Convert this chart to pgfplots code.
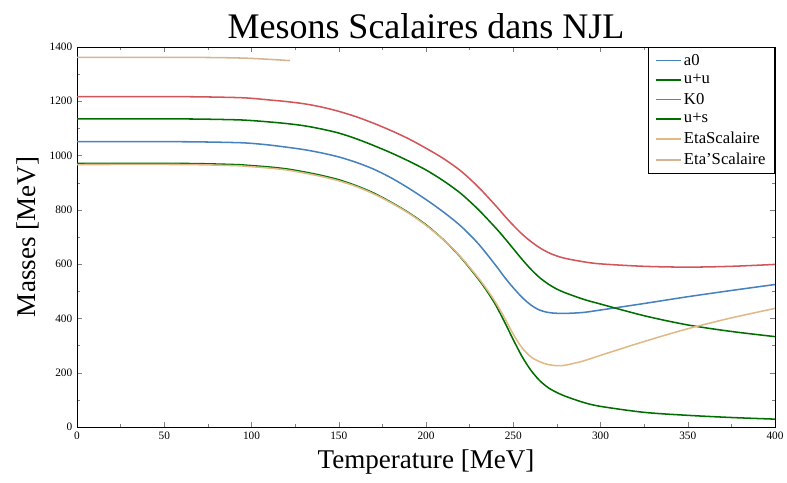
\documentclass[border=0pt]{standalone}
\usepackage{fontspec}
\setmainfont{Liberation Serif}
\usepackage{pgfplots}
\pgfplotsset{compat=1.18}
\definecolor{cblue}{RGB}{70,130,190}
\definecolor{cgreen}{RGB}{0,110,0}
\definecolor{cred}{RGB}{210,85,90}
\definecolor{ctan}{RGB}{225,185,135}
\definecolor{ctanb}{RGB}{215,180,145}
\begin{document}
\begin{tikzpicture}
\begin{axis}[
  scale only axis,
  width=523.5pt, height=285pt,
  xmin=0, xmax=400, ymin=0, ymax=1400,
  xtick={0,50,...,400}, ytick={0,200,...,1400},
  minor x tick num=1, minor y tick num=1,
  /pgf/number format/assume math mode=true,
  /pgf/number format/1000 sep={},
  tick label style={font=\fontsize{8.5}{10}\selectfont},
  major tick length=4pt, minor tick length=2.5pt,
  title={Mesons Scalaires dans NJL},
  title style={font=\fontsize{27}{30}\selectfont, at={(axis description cs:0.5,1.035)}, anchor=center},
  xlabel={Temperature [MeV]},
  xlabel style={font=\fontsize{20.3}{24}\selectfont, at={(axis description cs:0.5,-0.092)}, anchor=center},
  ylabel={Masses [MeV]},
  ylabel style={font=\fontsize{20.3}{24}\selectfont, at={(axis description cs:-0.070,0.5)}, anchor=center},
  legend style={at={(1,1)}, anchor=north east, draw=black, font=\fontsize{12.5}{14}\selectfont, cells={anchor=west}, row sep=1.5pt, inner xsep=5pt, inner ysep=3pt},
  legend image code/.code={\draw[mark repeat=2,mark phase=2,#1] plot coordinates {(0cm,0cm) (0.33cm,0cm) (0.66cm,0cm)};},
]
\addplot[cblue, line width=1.15pt, smooth] coordinates {
(0,1051) (60,1051) (90,1048) (100,1045) (110,1039) (120,1031) (130,1022) (140,1010) (150,995) (160,975) (170,950) (180,918) (190,880) (200,838) (210,792) (220,740) (230,675) (240,595) (245,552) (250,513) (255,478) (260,450) (265,431) (270,422) (275,419) (280,418.5) (290,422) (300,431) (325,455) (350,480) (375,503) (400,525)};
\addlegendentry{a0}
\addplot[cgreen, line width=1.15pt, smooth] coordinates {
(0,971) (60,971) (90,967) (100,963) (110,958) (120,951) (130,940) (140,927) (150,911) (160,889) (170,862) (180,828) (190,790) (200,745) (210,690) (220,624) (230,545) (235,500) (240,449) (245,387) (250,322) (255,260) (260,210) (265,172) (270,145) (275,127) (280,113) (290,91) (300,76) (325,54) (350,43) (375,35) (400,29)};
\addlegendentry{u+u}
\addplot[cred, line width=1.15pt, smooth] coordinates {
(0,1217) (60,1217) (90,1214) (100,1211) (110,1205) (120,1199) (130,1191) (140,1179) (150,1163) (160,1143) (170,1119) (180,1092) (190,1062) (200,1027) (210,989) (220,943) (230,884) (240,815) (245,778) (250,743) (255,711) (260,684) (265,661) (270,643) (275,630) (280,621) (290,609) (300,601) (325,592) (350,589) (375,592) (400,599)};
\addlegendentry{K0}
\addplot[cgreen, line width=1.15pt, smooth] coordinates {
(0,1135) (60,1135) (90,1132) (100,1129) (110,1124) (120,1118) (130,1110) (140,1098) (150,1083) (160,1062) (170,1037) (180,1010) (190,980) (200,947) (210,907) (220,860) (230,801) (240,733) (245,696) (250,657) (255,618) (260,582) (265,551) (270,527) (275,508) (280,494) (290,471) (300,453) (325,410) (350,376) (375,352) (400,333)};
\addlegendentry{u+s}
\addplot[ctan, line width=1.15pt, smooth] coordinates {
(0,967) (60,967) (90,963) (100,959) (110,954) (120,947) (130,936) (140,923) (150,907) (160,886) (170,859) (180,826) (190,788) (200,743) (210,690) (220,626) (230,549) (235,506) (240,458) (245,402) (250,342) (255,292) (260,259) (265,241) (270,230) (275,226) (280,228) (290,243) (300,264) (325,315) (350,362) (375,402) (400,437)};
\addlegendentry{EtaScalaire}
\addplot[ctanb, line width=1.15pt, smooth] coordinates {
(0,1362) (50,1362) (80,1361) (100,1358) (122,1350)};
\addlegendentry{Eta'Scalaire}
\end{axis}
\pgfresetboundingbox
\path ([shift={(-57.75pt,-41.25pt)}]current axis.south west) rectangle ([shift={(9pt,35.25pt)}]current axis.north east);
\end{tikzpicture}
\end{document}
